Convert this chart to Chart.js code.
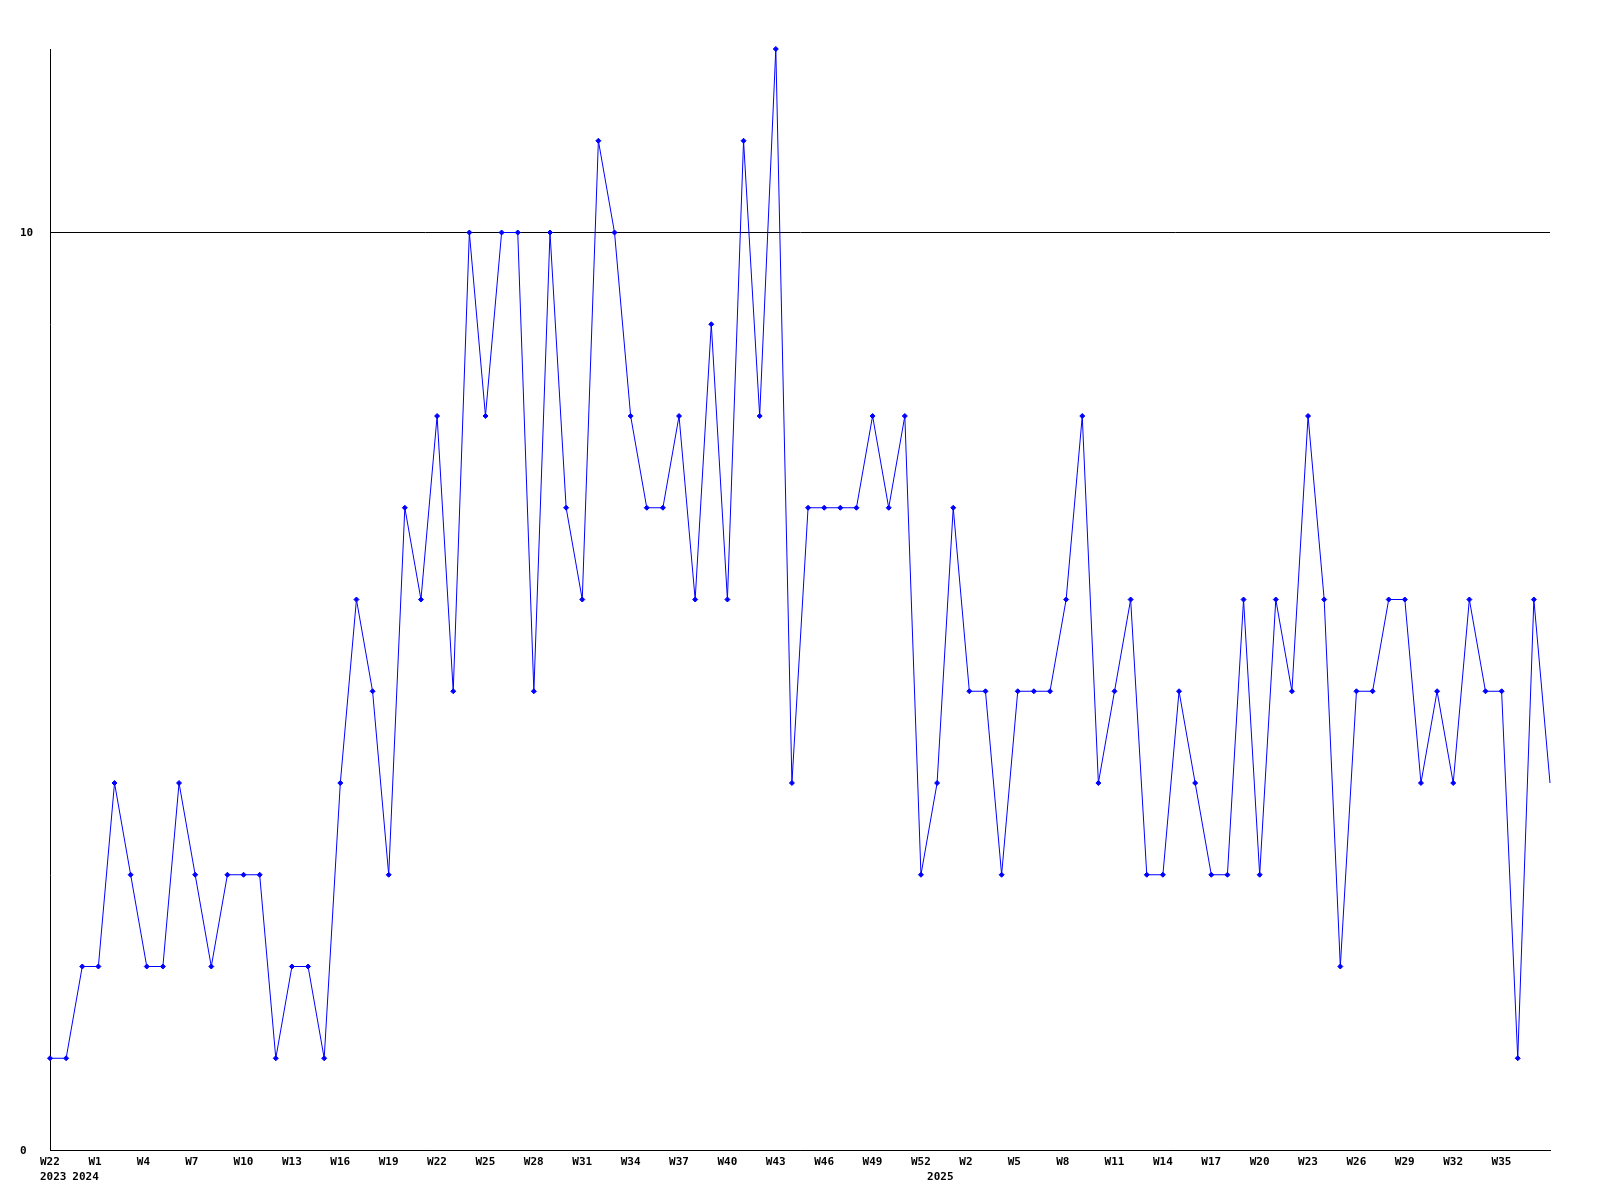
<!DOCTYPE html>
<html>
<head>
<meta charset="utf-8">
<title>Weekly chart</title>
<script src="https://cdn.jsdelivr.net/npm/chart.js@4/dist/chart.umd.min.js"></script>
<style>
    html, body { margin: 0; padding: 0; background: #ffffff; }
    #wrap { width: 1600px; height: 1200px; }
</style>
</head>
<body>
<div id="wrap"><canvas id="weekChart" width="1600" height="1200"></canvas></div>
<script>
// Weekly values, one per point, left to right
const values = [
    1, 1, 2, 2, 4, 3, 2, 2, 4, 3,
    2, 3, 3, 3, 1, 2, 2, 1, 4, 6,
    5, 3, 7, 6, 8, 5, 10, 8, 10, 10,
    5, 10, 7, 6, 11, 10, 8, 7, 7, 8,
    6, 9, 6, 11, 8, 12, 4, 7, 7, 7,
    7, 8, 7, 8, 3, 4, 7, 5, 5, 3,
    5, 5, 5, 6, 8, 4, 5, 6, 3, 3,
    5, 4, 3, 3, 6, 3, 6, 5, 8, 6,
    2, 5, 5, 6, 6, 4, 5, 4, 6, 5,
    5, 1, 6, 4
];

// Week tick labels and the point each sits under
const weekIndex = [0, 3, 6, 9, 12, 15, 18, 21, 24, 27, 30, 33, 36, 39, 42, 45, 48, 51, 54,
                   57, 60, 63, 66, 69, 72, 75, 78, 81, 84, 87, 90];
const weekText = ['W22', 'W1', 'W4', 'W7', 'W10', 'W13', 'W16', 'W19', 'W22', 'W25', 'W28',
                  'W31', 'W34', 'W37', 'W40', 'W43', 'W46', 'W49', 'W52',
                  'W2', 'W5', 'W8', 'W11', 'W14', 'W17', 'W20', 'W23', 'W26', 'W29', 'W32', 'W35'];

// Year labels on the second line
const yearIndex = [0, 2, 55];
const yearText = ['2023', '2024', '2025'];

// Value axis
const yMin = 0;
const yMax = 12;
const yTicks = [0, 10];

(function() {
    const labels = values.map((v, i) => String(i));
    const font = { family: '"DejaVu Sans Mono", "Liberation Mono", monospace', size: 11, weight: 'bold', lineHeight: 1.35 };

    function tickLabel(i) {
        const w = weekIndex.indexOf(i);
        const y = yearIndex.indexOf(i);
        const week = w >= 0 ? weekText[w] : '';
        const year = y >= 0 ? yearText[y] : '';
        if (!week && !year) return '';
        if (!year) return week;
        return [week, year];
    }

    const ctx = document.getElementById('weekChart');
    new Chart(ctx, {
        type: 'line',
        data: {
            labels: labels,
            datasets: [{
                data: values,
                borderColor: '#0000ff',
                backgroundColor: '#0000ff',
                borderWidth: 1,
                tension: 0,
                fill: false,
                clip: false,
                pointStyle: 'rectRot',
                pointRadius: (c) => c.dataIndex === values.length - 1 ? 0 : 2.5,
                pointBorderWidth: 1,
                pointHoverRadius: 3
            }]
        },
        options: {
            responsive: false,
            animation: false,
            layout: { padding: { left: 20, right: 50, top: 49, bottom: 0 } },
            plugins: {
                legend: { display: false },
                tooltip: { enabled: false }
            },
            scales: {
                x: {
                    type: 'category',
                    offset: false,
                    grid: { color: 'rgba(0,0,0,0)', drawTicks: false },
                    border: { display: true, color: '#000000', width: 1 },
                    ticks: {
                        autoSkip: false,
                        maxRotation: 0,
                        minRotation: 0,
                        align: 'start',
                        labelOffset: -10,
                        padding: 5,
                        color: '#000000',
                        font: font,
                        callback: (val, i) => tickLabel(i)
                    },
                    afterFit: (scale) => { scale.height = 50; }
                },
                y: {
                    min: yMin,
                    max: yMax,
                    grid: { color: '#000000', lineWidth: 1, drawTicks: false },
                    border: { display: true, color: '#000000', width: 1 },
                    ticks: {
                        crossAlign: 'far',
                        padding: 17,
                        labelOffset: 1,
                        color: '#000000',
                        font: font
                    },
                    afterBuildTicks: (scale) => {
                        scale.ticks = yTicks.map(v => ({ value: v }));
                    },
                    afterFit: (scale) => { scale.width = 30; }
                }
            }
        }
    });
})();
</script>
</body>
</html>
